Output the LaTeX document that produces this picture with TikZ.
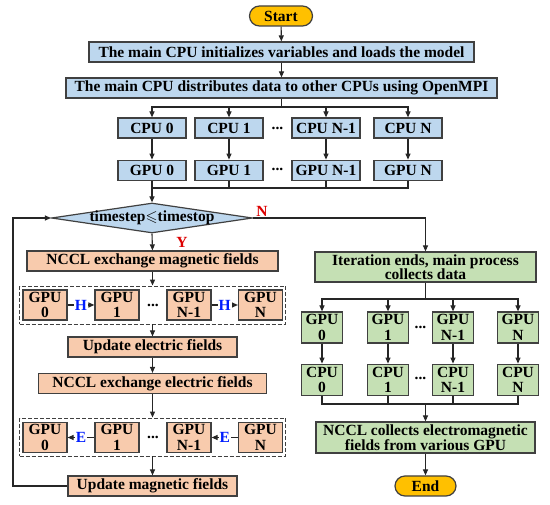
\documentclass[tikz,border=0pt]{standalone}
\usepackage{fontspec}
\setmainfont{Liberation Serif}
\usepackage{amssymb}
\usetikzlibrary{positioning}
\usetikzlibrary{arrows.meta}
\usetikzlibrary{shapes.geometric}
\definecolor{boxline}{RGB}{64,64,64}
\definecolor{cpublue}{RGB}{189,215,238}
\definecolor{fieldorange}{RGB}{248,203,173}
\definecolor{collectgreen}{RGB}{197,224,180}
\definecolor{termgold}{RGB}{255,192,0}
\definecolor{labelred}{RGB}{220,0,0}
\definecolor{labelblue}{RGB}{0,30,255}
\tikzset{termbox/.style={rectangle,rounded corners=10pt,draw=boxline,fill=termgold,
line width=1.2pt,inner sep=0pt,minimum height=20pt, minimum width=63pt}}
\tikzset{bluebox/.style={rectangle,draw=boxline,fill=cpublue,
line width=1.2pt,inner sep=0pt,minimum height=20pt}}
\tikzset{unitbox/.style={bluebox,minimum width=68pt}}
\tikzset{orangebox/.style={rectangle,draw=boxline,fill=fieldorange,
line width=1.2pt,inner sep=0pt,minimum height=20pt}}
\tikzset{orangecell/.style={orangebox,align=center,minimum width=44pt,minimum height=30pt}}
\tikzset{greenbox/.style={rectangle,draw=boxline,fill=collectgreen,align=center,
line width=1.2pt,inner sep=0pt,font=\fontsize{15.5}{14.5}\selectfont\bfseries}}
\tikzset{greencell/.style={greenbox,minimum width=41pt,minimum height=31pt,
font=\fontsize{15.5}{15.5}\selectfont\bfseries}}
\tikzset{dashbox/.style={rectangle,draw=boxline,dashed,dash pattern=on 4pt off 2pt,
line width=0.9pt,fill=white,minimum width=266pt,minimum height=38pt}}
\tikzset{decision/.style={diamond,draw=boxline,fill=cpublue,line width=1.2pt,
inner sep=0pt,minimum width=201pt,minimum height=30pt}}
\tikzset{dotsnode/.style={inner sep=0pt}}
\tikzset{branchlabel/.style={text=labelred,inner sep=0pt}}
\tikzset{fieldlabel/.style={text=labelblue,fill=white,inner sep=1pt}}
\tikzset{flowline/.style={line width=1.1pt,draw=black!85,-{Triangle[length=6pt,width=5pt]}}}
\tikzset{joinline/.style={line width=1.1pt,draw=black!85}}

\begin{document}
\begin{tikzpicture}[x=1pt,y=-1pt,font=\fontsize{15.5}{15.5}\selectfont\bfseries]
    \useasboundingbox (0,0) rectangle (550,505);

    % start and set-up
    \node[termbox] (start) at (281,16) {Start};
    \node[bluebox,minimum width=385pt] (init) at (281.5,52) {The main CPU initializes variables and loads the model};
    \node[bluebox,minimum width=431pt] (dist) at (281.5,88) {The main CPU distributes data to other CPUs using OpenMPI};

    \node[unitbox] (cpuA) at (152,128) {CPU 0};
    \node[unitbox] (cpuB) at (229,128) {CPU 1};
    \node[unitbox] (cpuC) at (326,128) {CPU N-1};
    \node[unitbox] (cpuD) at (408,128) {CPU N};
    \node[dotsnode] (cpudots) at (277.5,128) {...};

    \node[unitbox] (gpuA) [below=21pt of cpuA] {GPU 0};
    \node[unitbox] (gpuB) [below=21pt of cpuB] {GPU 1};
    \node[unitbox] (gpuC) [below=21pt of cpuC] {GPU N-1};
    \node[unitbox] (gpuD) [below=21pt of cpuD] {GPU N};
    \node[dotsnode] (gpudots) at (277.5,169) {...};

    \coordinate (splitA) at (281.5,107);
    \coordinate (mergeA) at (152,188);

    % time loop
    \node[decision] (cond) at (152,218) {\makebox[0pt]{timestep$\leqslant$timestop}};
    \node[branchlabel] (nolabel) at (262,211) {N};
    \node[branchlabel] (yeslabel) at (182,242) {Y};

    \node[orangebox,minimum width=251pt] (exmag) at (152.5,261) {NCCL exchange magnetic fields};

    \node[dashbox] (groupH) at (152.5,305) {};
    \node[orangecell] (hgpuA) at (45,305) {GPU\\0};
    \node[orangecell] (hgpuB) at (117,305) {GPU\\1};
    \node[orangecell] (hgpuC) at (189,305) {GPU\\N-1};
    \node[orangecell] (hgpuD) at (260.5,305) {GPU\\N};
    \node[dotsnode] (hdots) at (153,305) {...};

    \node[orangebox,minimum width=169pt] (updE) at (152.5,347) {Update electric fields};
    \node[orangebox,minimum width=228pt] (exele) at (152.5,383.5) {NCCL exchange electric fields};

    \node[dashbox] (groupE) at (152.5,437) {};
    \node[orangecell] (egpuA) at (45,437.5) {GPU\\0};
    \node[orangecell] (egpuB) at (117,437.5) {GPU\\1};
    \node[orangecell] (egpuC) at (189,437.5) {GPU\\N-1};
    \node[orangecell] (egpuD) at (260.5,437.5) {GPU\\N};
    \node[dotsnode] (edots) at (153,437.5) {...};

    \node[orangebox,minimum width=169pt] (updM) at (152.5,486) {Update magnetic fields};
    \coordinate (loopA) at (13,486);

    % collecting results
    \node[greenbox,minimum width=221pt,minimum height=30pt] (iter) at (425.5,267) {Iteration ends, main process\\collects data};

    \node[greencell] (cgpuA) at (322,327.5) {GPU\\0};
    \node[greencell] (cgpuB) at (388,327.5) {GPU\\1};
    \node[greencell] (cgpuC) at (453,327.5) {GPU\\N-1};
    \node[greencell] (cgpuD) at (518,327.5) {GPU\\N};
    \node[dotsnode] (cgpudots) at (420.5,327.5) {...};

    \node[greencell] (ccpuA) [below=20pt of cgpuA] {CPU\\0};
    \node[greencell] (ccpuB) [below=20pt of cgpuB] {CPU\\1};
    \node[greencell] (ccpuC) [below=20pt of cgpuC] {CPU\\N-1};
    \node[greencell] (ccpuD) [below=20pt of cgpuD] {CPU\\N};
    \node[dotsnode] (ccpudots) at (420.5,378) {...};

    \node[greenbox,minimum width=219pt,minimum height=31pt] (gather) at (425.5,437.5) {NCCL collects electromagnetic\\fields from various GPU};
    \node[termbox,minimum width=61pt] (stop) at (425.5,486) {End};

    \coordinate (splitB) at (425.5,299);
    \coordinate (mergeB) at (425.5,404);

    % connectors
    \draw[flowline] (start) -- (init);
    \draw[flowline] (init) -- (dist);
    \draw[joinline] (dist.south) -- (splitA);
    \foreach \u in {A,B,C,D} \draw[flowline] (splitA) -| (cpu\u.north);
    \foreach \u in {A,B,C,D} \draw[flowline] (cpu\u) -- (gpu\u);
    \foreach \u in {B,C,D} \draw[joinline] (gpu\u.south) |- (mergeA);
    \draw[flowline] (gpuA.south) -- (cond.north);

    \draw[flowline] (cond.east) -| (iter.north);
    \draw[flowline] (cond.south) -- (exmag.north);
    \draw[flowline] (exmag.south) -- (groupH.north);
    \draw[flowline] (hgpuA) --node[fieldlabel] {H} (hgpuB);
    \draw[flowline] (hgpuC) --node[fieldlabel] {H} (hgpuD);
    \draw[flowline] (groupH.south) -- (updE.north);
    \draw[flowline] (updE.south) -- (exele.north);
    \draw[flowline] (exele.south) -- (groupE.north);
    \draw[flowline] (egpuB) --node[fieldlabel] {E} (egpuA);
    \draw[flowline] (egpuD) --node[fieldlabel] {E} (egpuC);
    \draw[flowline] (groupE.south) -- (updM.north);
    \draw[flowline] (updM.west) -- (loopA) |- (cond.west);

    \draw[joinline] (iter.south) -- (splitB);
    \foreach \u in {A,B,C,D} \draw[flowline] (splitB) -| (cgpu\u.north);
    \foreach \u in {A,B,C,D} \draw[flowline] (cgpu\u) -- (ccpu\u);
    \foreach \u in {A,B,C,D} \draw[joinline] (ccpu\u.south) |- (mergeB);
    \draw[flowline] (mergeB) -- (gather.north);
    \draw[flowline] (gather.south) -- (stop.north);

\end{tikzpicture}
\end{document}
